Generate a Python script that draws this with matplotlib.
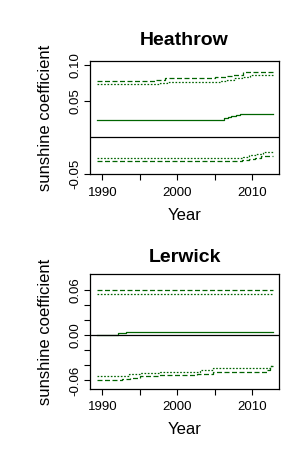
import matplotlib
matplotlib.use("Agg")
import matplotlib.pyplot as plt

plt.rcParams['font.family'] = ['Liberation Sans', 'DejaVu Sans']
plt.rcParams['lines.scale_dashes'] = False

# ---- Heathrow data ----
h_solid_x = [1989.3, 2005.7, 2006.2, 2006.7, 2007.2, 2007.8, 2008.4, 2012.7]
h_solid_y = [0.0234, 0.0245, 0.0262, 0.0278, 0.0293, 0.0305, 0.0317, 0.0317]
h_up_dash_x = [1989.3, 1997.0, 1998.4, 2005.0, 2006.5, 2007.4, 2008.8, 2012.7]
h_up_dash_y = [0.0775, 0.0795, 0.0812, 0.0825, 0.0840, 0.0858, 0.0903, 0.0903]
h_up_dot_x = [1989.3, 1997.7, 1998.6, 2005.7, 2006.6, 2007.6, 2008.6, 2009.7, 2012.7]
h_up_dot_y = [0.0730, 0.0745, 0.0757, 0.0775, 0.0795, 0.0815, 0.0835, 0.0858, 0.0858]
h_lo_dot_x = [1989.3, 2007.9, 2008.8, 2009.6, 2010.5, 2011.4, 2012.7]
h_lo_dot_y = [-0.0289, -0.0280, -0.0265, -0.0245, -0.0225, -0.0207, -0.0207]
h_lo_dash_x = [1989.3, 2008.6, 2009.6, 2010.4, 2011.2, 2012.7]
h_lo_dash_y = [-0.0322, -0.0310, -0.0295, -0.0278, -0.0262, -0.0262]

# ---- Lerwick data ----
l_solid_x = [1989.3, 1991.4, 1992.1, 1993.2, 2012.7]
l_solid_y = [0.0, 0.0010, 0.0030, 0.0044, 0.0044]
l_up_dash_x = [1989.3, 2012.7]
l_up_dash_y = [0.0601, 0.0601]
l_up_dot_x = [1989.3, 2012.7]
l_up_dot_y = [0.0544, 0.0544]
l_lo_dot_x = [1989.3, 1993.5, 1995.0, 1997.7, 2003.0, 2004.8, 2012.3, 2012.7]
l_lo_dot_y = [-0.0540, -0.0520, -0.0496, -0.0483, -0.0460, -0.0430, -0.0407, -0.0407]
l_lo_dash_x = [1989.3, 1992.6, 1993.7, 1995.0, 1997.5, 2002.6, 2004.8, 2011.9, 2012.4, 2012.7]
l_lo_dash_y = [-0.0597, -0.0585, -0.0571, -0.0540, -0.0531, -0.0514, -0.0483, -0.0460, -0.0407, -0.0407]

xticks = [1990, 1995, 2000, 2005, 2010]
xticklabels = ["1990", "", "2000", "", "2010"]
h_yticks = [-0.05, 0.05, 0.10]
h_yticklabels = ["-0.05", "0.05", "0.10"]
l_yticks = [-0.06, -0.04, -0.02, 0.0, 0.02, 0.04, 0.06]
l_yticklabels = ["-0.06", "", "", "0.00", "", "", "0.06"]

GREEN = "#006400"
DASH = (0, (3.6, 1.8))
DOT = (0, (1.2, 1.2))

fig = plt.figure(figsize=(3.0, 4.5), dpi=100)

def panel(rect, title, series, ylim, yticks, yticklabels, title_y, xlab_y):
    ax = fig.add_axes(rect)
    for (x, y, ls) in series:
        ax.plot(x, y, color=GREEN, lw=0.9, linestyle=ls, drawstyle='steps-post')
    ax.axhline(0, color='black', lw=0.9)
    ax.set_xlim(1988.36, 2013.56)
    ax.set_ylim(*ylim)
    ax.set_xticks(xticks)
    ax.set_xticklabels(xticklabels, fontsize=9.5)
    ax.set_yticks(yticks)
    ax.set_yticklabels(yticklabels, fontsize=9.5, rotation=90, va='center')
    ax.tick_params(axis='x', length=4, width=0.8, pad=5)
    ax.tick_params(axis='y', length=4, width=0.8, pad=2)
    for s in ax.spines.values():
        s.set_linewidth(0.9)
    ax.text(0.5, title_y, title, transform=ax.transAxes, fontsize=14,
            fontweight='bold', ha='center', va='baseline')
    ax.text(0.5, xlab_y, "Year", transform=ax.transAxes, fontsize=12,
            ha='center', va='baseline')
    ax.text(-0.238, 0.5, "sunshine coefficient", transform=ax.transAxes,
            fontsize=12, rotation=90, ha='center', va='center')
    return ax

panel([0.30, 0.6133, 0.63, 0.2511], "Heathrow",
      [(h_solid_x, h_solid_y, '-'),
       (h_up_dash_x, h_up_dash_y, DASH), (h_up_dot_x, h_up_dot_y, DOT),
       (h_lo_dot_x, h_lo_dot_y, DOT), (h_lo_dash_x, h_lo_dash_y, DASH)],
      (-0.0505, 0.1051), h_yticks, h_yticklabels, 1.1416, -0.407)

panel([0.30, 0.1356, 0.63, 0.2549], "Lerwick",
      [(l_solid_x, l_solid_y, '-'),
       (l_up_dash_x, l_up_dash_y, DASH), (l_up_dot_x, l_up_dot_y, DOT),
       (l_lo_dot_x, l_lo_dot_y, DOT), (l_lo_dash_x, l_lo_dash_y, DASH)],
      (-0.0713, 0.0810), l_yticks, l_yticklabels, 1.107, -0.392)

fig.savefig("out.png", dpi=100)
